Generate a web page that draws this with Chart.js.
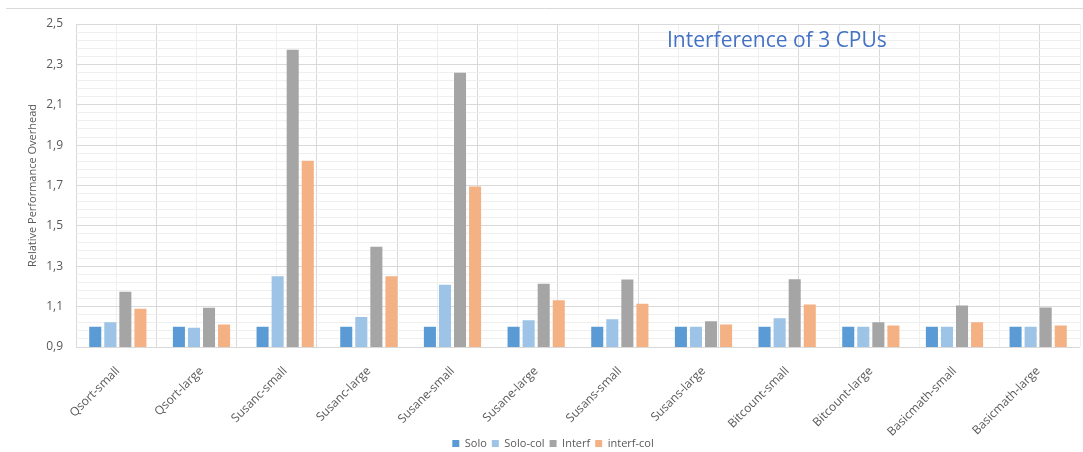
<!DOCTYPE html>
<html>
<head>
<meta charset="utf-8">
<script src="https://cdn.jsdelivr.net/npm/chart.js@4.4.1/dist/chart.umd.min.js"></script>
<style>
  html, body { margin: 0; padding: 0; background: #ffffff; }
  #wrap { width: 1083px; height: 452px; }
</style>
</head>
<body>
<div id="wrap"><canvas id="c" width="1083" height="452"></canvas></div>
<script>
// Benchmarks (x categories)
const categories = [
  'Qsort-small', 'Qsort-large', 'Susanc-small', 'Susanc-large',
  'Susane-small', 'Susane-large', 'Susans-small', 'Susans-large',
  'Bitcount-small', 'Bitcount-large', 'Basicmath-small', 'Basicmath-large'
];

// Relative performance overhead per configuration
const solo      = [1.00, 1.00, 1.00, 1.00, 1.00, 1.00, 1.00, 1.00, 1.00, 1.00, 1.00, 1.00];
const soloCol   = [1.023, 0.995, 1.25, 1.048, 1.208, 1.032, 1.037, 1.00, 1.042, 1.00, 1.00, 1.00];
const interf    = [1.174, 1.094, 2.373, 1.396, 2.259, 1.213, 1.234, 1.027, 1.235, 1.022, 1.106, 1.096];
const interfCol = [1.089, 1.012, 1.822, 1.25, 1.695, 1.131, 1.114, 1.012, 1.111, 1.007, 1.022, 1.007];

// Y axis labelled ticks
const yTickValues = [0.9, 1.1, 1.3, 1.5, 1.7, 1.9, 2.1, 2.3, 2.5];
const yTickLabels = ['0,9', '1,1', '1,3', '1,5', '1,7', '1,9', '2,1', '2,3', '2,5'];
const yMinorPerMajor = 5;

const FONT = "'Open Sans', 'DejaVu Sans', sans-serif";
const TEXT = '#595959';
const MAJOR_GRID = '#d9d9d9';
const MINOR_GRID = '#efefef';

// Chart heading placed inside the plot, the thin rule across the top,
// and a small nudge for the legend row
const decorations = {
  id: 'decorations',
  afterLayout(chart) {
    const lg = chart.legend;
    if (lg) {
      lg.left += 13;
      lg.right += 13;
      lg.top += 7;
      lg.bottom += 7;
    }
  },
  beforeDraw(chart) {
    const ctx = chart.ctx;
    ctx.save();
    ctx.strokeStyle = '#d9d9d9';
    ctx.lineWidth = 1;
    ctx.beginPath();
    ctx.moveTo(6, 8.5);
    ctx.lineTo(1083, 8.5);
    ctx.stroke();
    ctx.restore();
  },
  afterDatasetsDraw(chart) {
    const ctx = chart.ctx;
    ctx.save();
    ctx.fillStyle = '#4472C4';
    ctx.font = "21px " + FONT;
    ctx.textAlign = 'left';
    ctx.textBaseline = 'middle';
    ctx.fillText('Interference of 3 CPUs', 667, 41);
    ctx.restore();
  }
};

const majorSet = new Set(yTickValues.map(v => Math.round(v * 1000)));

new Chart(document.getElementById('c'), {
  type: 'bar',
  data: {
    labels: categories,
    datasets: [
      { label: 'Solo',       data: solo,      backgroundColor: '#5B9BD5' },
      { label: 'Solo-col',   data: soloCol,   backgroundColor: '#9DC3E6' },
      { label: 'Interf',     data: interf,    backgroundColor: '#A5A5A5' },
      { label: 'interf-col', data: interfCol, backgroundColor: '#F4B183' }
    ]
  },
  options: {
    responsive: false,
    animation: false,
    devicePixelRatio: 1,
    layout: { padding: { left: 0, top: 24, right: 3, bottom: 0 } },
    datasets: {
      bar: { categoryPercentage: 0.72, barPercentage: 0.8 }
    },
    plugins: {
      legend: {
        position: 'bottom',
        labels: {
          boxWidth: 7,
          boxHeight: 7,
          padding: 5,
          color: TEXT,
          font: { family: FONT, size: 11 }
        }
      },
      tooltip: { enabled: false }
    },
    scales: {
      x: {
        type: 'category',
        grid: { display: false },
        border: { display: false },
        ticks: {
          color: TEXT,
          font: { family: FONT, size: 12 },
          minRotation: 45,
          maxRotation: 45,
          autoSkip: false,
          padding: 9
        },
        afterFit(scale) {
          scale.height = 79;
          // long rotated labels may run past the axis box; let them draw fully
          scale._computeLabelArea = () => undefined;
        }
      },
      xg: {
        type: 'linear',
        axis: 'x',
        position: 'bottom',
        min: -0.5,
        max: categories.length - 0.5,
        afterBuildTicks(scale) {
          const t = [];
          for (let k = 0; k <= categories.length * 2; k++) t.push({ value: k / 2 - 0.5 });
          scale.ticks = t;
        },
        ticks: { display: false },
        border: { display: false },
        grid: {
          drawTicks: false,
          lineWidth: 1,
          color(ctx) {
            const v = ctx.tick ? ctx.tick.value : 0;
            return Math.abs(v - Math.round(v)) > 0.25 ? MAJOR_GRID : MINOR_GRID;
          }
        },
        afterFit(scale) { scale.height = 0; }
      },
      y: {
        type: 'linear',
        min: yTickValues[0],
        max: yTickValues[yTickValues.length - 1],
        afterBuildTicks(scale) {
          const t = [];
          for (let i = 0; i < yTickValues.length; i++) {
            t.push({ value: yTickValues[i] });
            if (i < yTickValues.length - 1) {
              const step = (yTickValues[i + 1] - yTickValues[i]) / yMinorPerMajor;
              for (let m = 1; m < yMinorPerMajor; m++) {
                t.push({ value: Math.round((yTickValues[i] + m * step) * 1000) / 1000 });
              }
            }
          }
          scale.ticks = t;
        },
        ticks: {
          color: TEXT,
          font: { family: FONT, size: 12 },
          padding: 13,
          autoSkip: false,
          callback(value) {
            const i = yTickValues.findIndex(v => Math.abs(v - value) < 1e-6);
            return i >= 0 ? yTickLabels[i] : '';
          }
        },
        border: { display: false },
        grid: {
          drawTicks: false,
          lineWidth: 1,
          color(ctx) {
            const v = ctx.tick ? ctx.tick.value : 0;
            return majorSet.has(Math.round(v * 1000)) ? MAJOR_GRID : MINOR_GRID;
          }
        },
        title: {
          display: true,
          text: 'Relative Performance Overhead',
          color: TEXT,
          font: { family: FONT, size: 11 },
          padding: { top: 26, bottom: 0 }
        },
        afterFit(scale) { scale.width = 76; }
      }
    }
  },
  plugins: [decorations]
});
</script>
</body>
</html>
